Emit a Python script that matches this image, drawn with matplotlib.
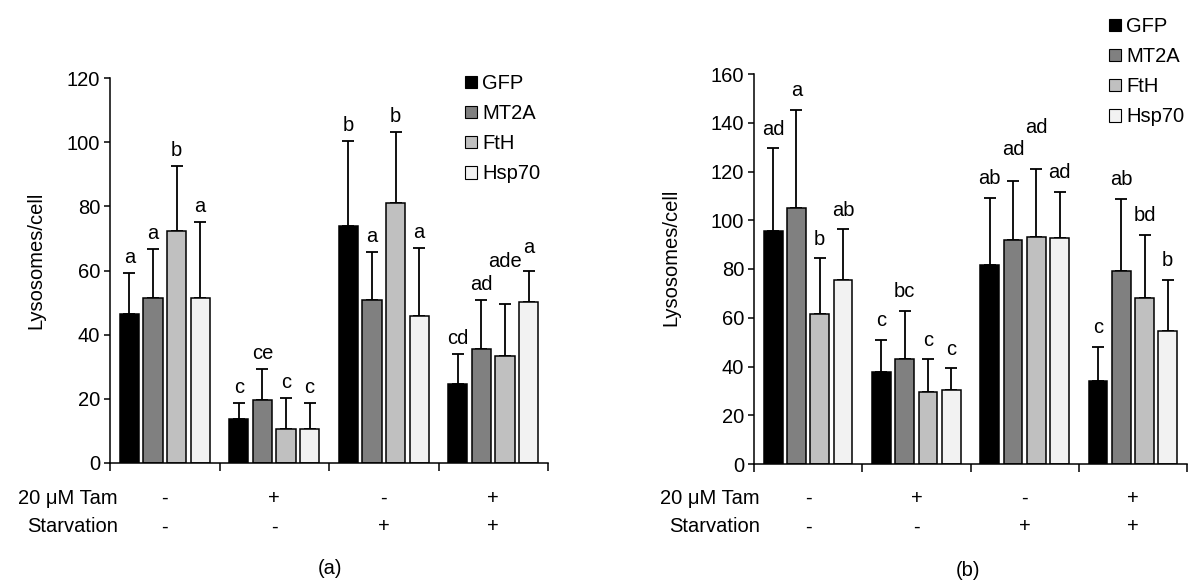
import numpy as np
import matplotlib
matplotlib.use('Agg')
import matplotlib.pyplot as plt
from matplotlib.patches import Patch

plt.rcParams['font.family'] = ['Liberation Sans', 'DejaVu Sans']
plt.rcParams['font.size'] = 14.5

series = ['GFP', 'MT2A', 'FtH', 'Hsp70']
colors = ['#000000', '#808080', '#c0c0c0', '#f2f2f2']
tam = ['-', '+', '-', '+']
starvation = ['-', '-', '+', '+']

# panel (a): mean and upper error end, one row per series, one column per treatment
a_mean = {
    'GFP':   [46.4, 13.6, 74.0, 24.5],
    'MT2A':  [51.4, 19.7, 50.8, 35.6],
    'FtH':   [72.2, 10.7, 81.1, 33.3],
    'Hsp70': [51.4, 10.7, 45.7, 50.2],
}
a_top = {
    'GFP':   [59.3, 18.6, 100.4, 33.9],
    'MT2A':  [66.7, 29.4, 65.9, 50.8],
    'FtH':   [92.5, 20.3, 103.2, 49.7],
    'Hsp70': [75.0, 18.6, 67.1, 59.8],
}
a_letters = {
    'GFP':   ['a', 'c', 'b', 'cd'],
    'MT2A':  ['a', 'ce', 'a', 'ad'],
    'FtH':   ['b', 'c', 'b', 'ade'],
    'Hsp70': ['a', 'c', 'a', 'a'],
}

# panel (b)
b_mean = {
    'GFP':   [95.7, 37.9, 81.5, 34.2],
    'MT2A':  [105.2, 42.9, 91.9, 79.0],
    'FtH':   [61.5, 29.4, 93.3, 68.0],
    'Hsp70': [75.5, 30.4, 92.6, 54.7],
}
b_top = {
    'GFP':   [129.5, 51.0, 109.3, 48.0],
    'MT2A':  [145.2, 62.9, 116.1, 108.7],
    'FtH':   [84.4, 42.9, 121.2, 94.0],
    'Hsp70': [96.3, 39.2, 111.7, 75.5],
}
b_letters = {
    'GFP':   ['ad', 'c', 'ab', 'c'],
    'MT2A':  ['a', 'bc', 'ad', 'ab'],
    'FtH':   ['b', 'c', 'ad', 'bd'],
    'Hsp70': ['ab', 'c', 'ad', 'b'],
}

W, H = 1193, 581
fig = plt.figure(figsize=(W / 100, H / 100), dpi=100)


def px_axes(left, top, right, bottom):
    return fig.add_axes([left / W, 1 - bottom / H, (right - left) / W, (bottom - top) / H])


def panel(ax, mean, top, letters, ymax, pad, lifts, leg_xy, lab_x, ylab_xy, tag, tag_xy):
    x = np.arange(4)
    step = 0.215
    for i, s in enumerate(series):
        xs = x + (i - 1.5) * step
        m = np.array(mean[s])
        err = np.array(top[s]) - m
        ax.bar(xs, m, width=0.174, color=colors[i], edgecolor='black', linewidth=1.1, zorder=2)
        ax.errorbar(xs, m, yerr=[np.zeros(4), err], fmt='none', ecolor='black',
                    elinewidth=1.3, capsize=4, capthick=1.3, zorder=1)
        for j in range(4):
            ax.annotate(letters[s][j], (xs[j], top[s][j]), xytext=(0, pad + lifts.get((j, i), 0)),
                        textcoords='offset points', ha='center', va='bottom')
    ax.set_xlim(-0.5, 3.5)
    ax.set_ylim(0, ymax)
    ax.set_yticks(np.arange(0, ymax + 1, 20))
    ax.set_xticks(np.arange(-0.5, 4, 1))
    ax.set_xticklabels([])
    ax.tick_params(axis='x', direction='out', length=6, width=1.1)
    ax.tick_params(axis='y', direction='out', length=4, width=1.1, pad=3)
    for sp in ['top', 'right']:
        ax.spines[sp].set_visible(False)
    for sp in ['left', 'bottom']:
        ax.spines[sp].set_linewidth(1.1)
    ax.set_ylabel('Lysosomes/cell')
    ax.yaxis.set_label_coords(*ylab_xy)

    handles = [Patch(facecolor=c, edgecolor='black', linewidth=0.8) for c in colors]
    ax.legend(handles, series, loc='upper left', bbox_to_anchor=(leg_xy[0] / W, 1 - leg_xy[1] / H),
              bbox_transform=fig.transFigure, frameon=False, handlelength=0.6, handleheight=0.6,
              handletextpad=0.25, labelspacing=0.55, borderpad=0, borderaxespad=0)

    for row, (name, vals) in enumerate([('20 \u03bcM Tam', tam), ('Starvation', starvation)]):
        yf = 1 - (498 + 29 * row) / H
        fig.text(lab_x / W, yf, name, ha='right', va='center')
        for j, v in enumerate(vals):
            xf = fig.transFigure.inverted().transform(ax.transData.transform((j, 0)))[0]
            fig.text(xf, yf, v, ha='center', va='center')
    fig.text(tag_xy[0] / W, 1 - tag_xy[1] / H, tag, ha='center', va='center')


ax_a = px_axes(110, 78, 548, 463)
panel(ax_a, a_mean, a_top, a_letters, 120, 4.3, {(3, 2): 19, (3, 3): 6},
      (465, 74), 118, (-0.148, 0.527), '(a)', (330, 569))
ax_b = px_axes(754, 74, 1187, 464)
panel(ax_b, b_mean, b_top, b_letters, 160, 7, {(2, 1): 9, (2, 2): 16},
      (1109, 17), 760, (-0.169, 0.531), '(b)', (968, 571))

fig.savefig('out.png', dpi=100)
